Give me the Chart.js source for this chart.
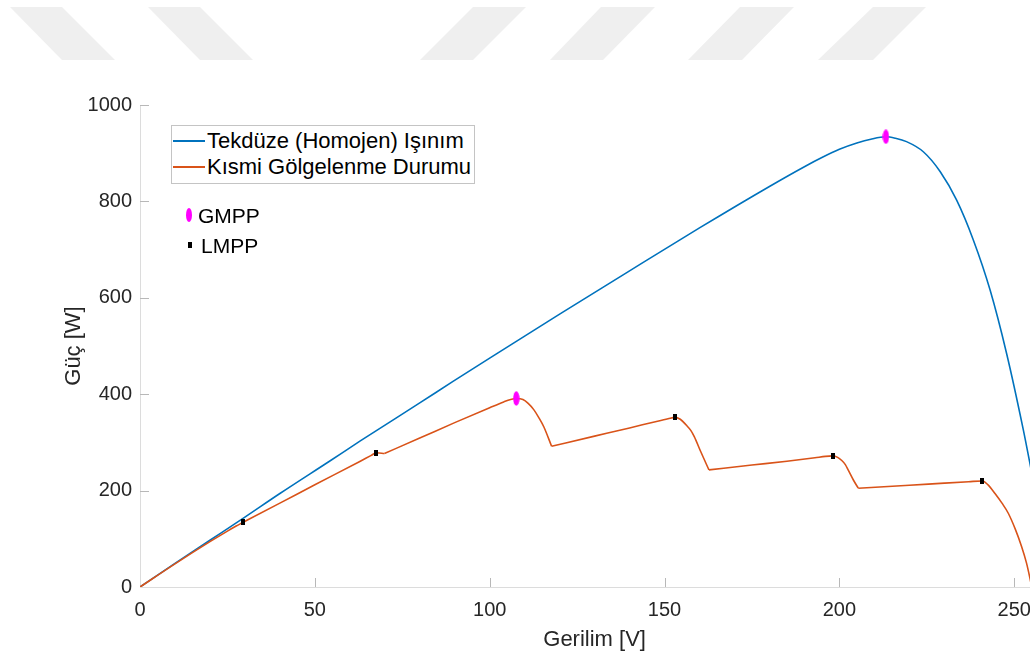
<!DOCTYPE html>
<html>
<head>
<meta charset="utf-8">
<script src="https://cdn.jsdelivr.net/npm/chart.js@4.4.1/dist/chart.umd.min.js"></script>
<style>
  html, body { margin:0; padding:0; background:#fff; overflow:hidden; }
  #wrap { position:relative; width:1030px; height:656px; overflow:hidden; }
  #wm { position:absolute; left:0; top:0; }
  #cv { position:absolute; left:0; top:0; }
  .lg { position:absolute; font-family:"Liberation Sans", Arial, Helvetica, sans-serif; color:#000; white-space:nowrap; }
</style>
</head>
<body>
<div id="wrap">
  <svg id="wm" width="1030" height="70">
    <g fill="#efefef">
      <polygon points="10,7 62,7 115,60 62,60"/>
      <polygon points="148,7 200,7 253,60 200,60"/>
      <polygon points="473,7 526,7 473,60 420,60"/>
      <polygon points="601,7 655,7 603,60 550,60"/>
      <polygon points="740,7 794,7 742,60 688,60"/>
      <polygon points="873,7 926,7 873,60 818,60"/>
    </g>
  </svg>
  <div id="cwrap" style="position:absolute;left:0;top:0;width:1070px;height:656px;">
    <canvas id="cv" width="1070" height="656"></canvas>
  </div>
  <!-- legend box -->
  <div style="position:absolute;left:171px;top:125px;width:302px;height:57px;border:1px solid #c4c4c4;background:#fff;"></div>
  <div style="position:absolute;left:173px;top:140px;width:32px;height:1.5px;background:#0072BD;"></div>
  <div style="position:absolute;left:173px;top:166px;width:32px;height:1.5px;background:#D95319;"></div>
  <div class="lg" style="left:207px;top:130px;font-size:22px;line-height:22px;">Tekdüze (Homojen) Işınım</div>
  <div class="lg" style="left:207px;top:156px;font-size:22px;line-height:22px;">Kısmi Gölgelenme Durumu</div>
  <div style="position:absolute;left:186px;top:208px;width:6px;height:14px;border-radius:50%;background:#ff00ff;"></div>
  <div class="lg" style="left:198px;top:205px;font-size:21px;line-height:21px;">GMPP</div>
  <div style="position:absolute;left:188px;top:242px;width:4px;height:6px;background:#000;"></div>
  <div class="lg" style="left:201px;top:235px;font-size:21px;line-height:21px;">LMPP</div>
</div>
<script>
// ---- data ----
const xTicks = [0, 50, 100, 150, 200, 250];
const yTicks = [0, 200, 400, 600, 800, 1000];

const blueV = [0,10,20,30,40,54.4,63,80,89.4,100,120,140,160,180,190,195,200,205,209,213.3,216,219.2,224,228.8,233.5,238.3,243.1,247.8,252.6,254.5,257,260];
const blueP = [0,49,97,145,194,262,303,382,426,475,566,656,745,831,872,891,908,921,929,934,931,924,903,862,803,720,616,485,326,256,160,45];

const orangeV = [0,10,20,25,27.5,29.4,31,40,50,63,66,67.6,69.9,80,90,100,104,106,107.6,109.5,111,112.6,114,115.5,117.7,130,140,148,151,153,154.5,156.2,157.5,158.5,160.4,162.7,175,185,193,196,198.2,199.5,200.6,201.7,202.5,204,205.4,220,230,237,240.9,242.5,244.5,246.5,248.3,250.3,252.1,253.5,254.5,255];
const orangeP = [0,48,94,116,126.5,134,140,174,212,261,272.5,278.5,277,309,341,372,384,389,391,389,381,368,352,332,292,313,330,344,349,352,348,336,325,312,280,243,253,261,268,271,272,269,263,254,243,222,205,211,215.5,218.5,220,212,194,174,153,120,84,50,18,0];
// voltages where the orange curve has a corner
const orangeCorners = [29.4, 69.9, 117.7, 162.7, 205.4];

const gmppV = [107.6, 213.3];
const gmppP = [391, 934];
const lmppV = [29.4, 67.6, 153, 198.2, 240.9];
const lmppP = [134, 279, 352, 272, 220];

// ---- helpers ----
const pts = (xs, ys) => xs.map((v, i) => ({x: v, y: ys[i]}));
function splitAt(xs, ys, cuts) {
  const segs = []; let cur = [];
  xs.forEach((v, i) => {
    cur.push({x: v, y: ys[i]});
    if (cuts.includes(v)) { segs.push(cur); cur = [{x: v, y: ys[i]}]; }
  });
  if (cur.length > 1) segs.push(cur);
  return segs;
}
function ellipseImg(w, h, color) {
  const c = document.createElement('canvas'); c.width = w; c.height = h;
  const g = c.getContext('2d'); g.fillStyle = color;
  g.beginPath(); g.ellipse(w/2, h/2, w/2 - 0.3, h/2 - 0.3, 0, 0, Math.PI*2); g.fill();
  return c;
}
function rectImg(w, h, color) {
  const c = document.createElement('canvas'); c.width = w; c.height = h;
  const g = c.getContext('2d'); g.fillStyle = color; g.fillRect(0, 0, w, h);
  return c;
}
const gmppImg = ellipseImg(7, 15, '#ff00ff');
const lmppImg = rectImg(4, 6, '#000000');

const insideTicks = {
  id: 'insideTicks',
  afterDraw(chart) {
    const {ctx, chartArea, scales: {x, y}} = chart;
    ctx.save();
    ctx.strokeStyle = '#b8b8b8';
    ctx.lineWidth = 1;
    x.ticks.forEach(t => {
      if (t.value === 0) return;
      const px = Math.round(x.getPixelForValue(t.value)) + 0.5;
      ctx.beginPath(); ctx.moveTo(px, chartArea.bottom); ctx.lineTo(px, chartArea.bottom - 9); ctx.stroke();
    });
    y.ticks.forEach(t => {
      if (t.value === 0) return;
      const py = Math.round(y.getPixelForValue(t.value)) + 0.5;
      ctx.beginPath(); ctx.moveTo(chartArea.left, py); ctx.lineTo(chartArea.left + 9, py); ctx.stroke();
    });
    ctx.restore();
  }
};

const FONT = '"Liberation Sans", Arial, Helvetica, sans-serif';

const orangeSets = splitAt(orangeV, orangeP, orangeCorners).map((seg, i) => ({
  label: i === 0 ? 'Kısmi Gölgelenme Durumu' : '',
  data: seg, showLine: true, borderColor: '#D95319', borderWidth: 1.6,
  pointRadius: 0, cubicInterpolationMode: 'monotone', order: 1
}));

new Chart(document.getElementById('cv'), {
  type: 'scatter',
  data: {
    datasets: [
      { label: 'GMPP', data: pts(gmppV, gmppP), pointStyle: gmppImg, pointRadius: 4, showLine: false, order: 0 },
      { label: 'LMPP', data: pts(lmppV, lmppP), pointStyle: lmppImg, pointRadius: 3, showLine: false, order: 0 },
      ...orangeSets,
      { label: 'Tekdüze (Homojen) Işınım', data: pts(blueV, blueP), showLine: true, borderColor: '#0072BD', borderWidth: 1.6, pointRadius: 0, cubicInterpolationMode: 'monotone', order: 2 }
    ]
  },
  options: {
    responsive: false,
    animation: false,
    events: [],
    layout: { padding: { left: 0, right: 20.8, top: 105, bottom: 0 } },
    plugins: { legend: { display: false }, tooltip: { enabled: false } },
    scales: {
      x: {
        type: 'linear', min: 0, max: 260,
        afterBuildTicks: s => { s.ticks = xTicks.map(v => ({value: v})); },
        afterFit: s => { s.height = 69; },
        grid: { display: false, drawTicks: false },
        border: { display: true, color: '#dcdcdc', width: 1 },
        ticks: { color: '#262626', font: { family: FONT, size: 20 }, padding: 11, maxRotation: 0, callback: v => String(v) },
        title: { display: true, text: 'Gerilim [V]', color: '#262626', font: { family: FONT, size: 22 }, padding: { top: 0, bottom: 3 } }
      },
      y: {
        type: 'linear', min: 0, max: 1000,
        afterBuildTicks: s => { s.ticks = yTicks.map(v => ({value: v})); },
        afterFit: s => { s.width = 140; },
        grid: { display: false, drawTicks: false },
        border: { display: true, color: '#dcdcdc', width: 1 },
        ticks: { color: '#262626', font: { family: FONT, size: 20 }, padding: 8, callback: v => String(v) },
        title: { display: true, text: 'Güç [W]', color: '#262626', font: { family: FONT, size: 22 }, padding: { top: 61, bottom: 0 } }
      }
    }
  },
  plugins: [insideTicks]
});
</script>
</body>
</html>
